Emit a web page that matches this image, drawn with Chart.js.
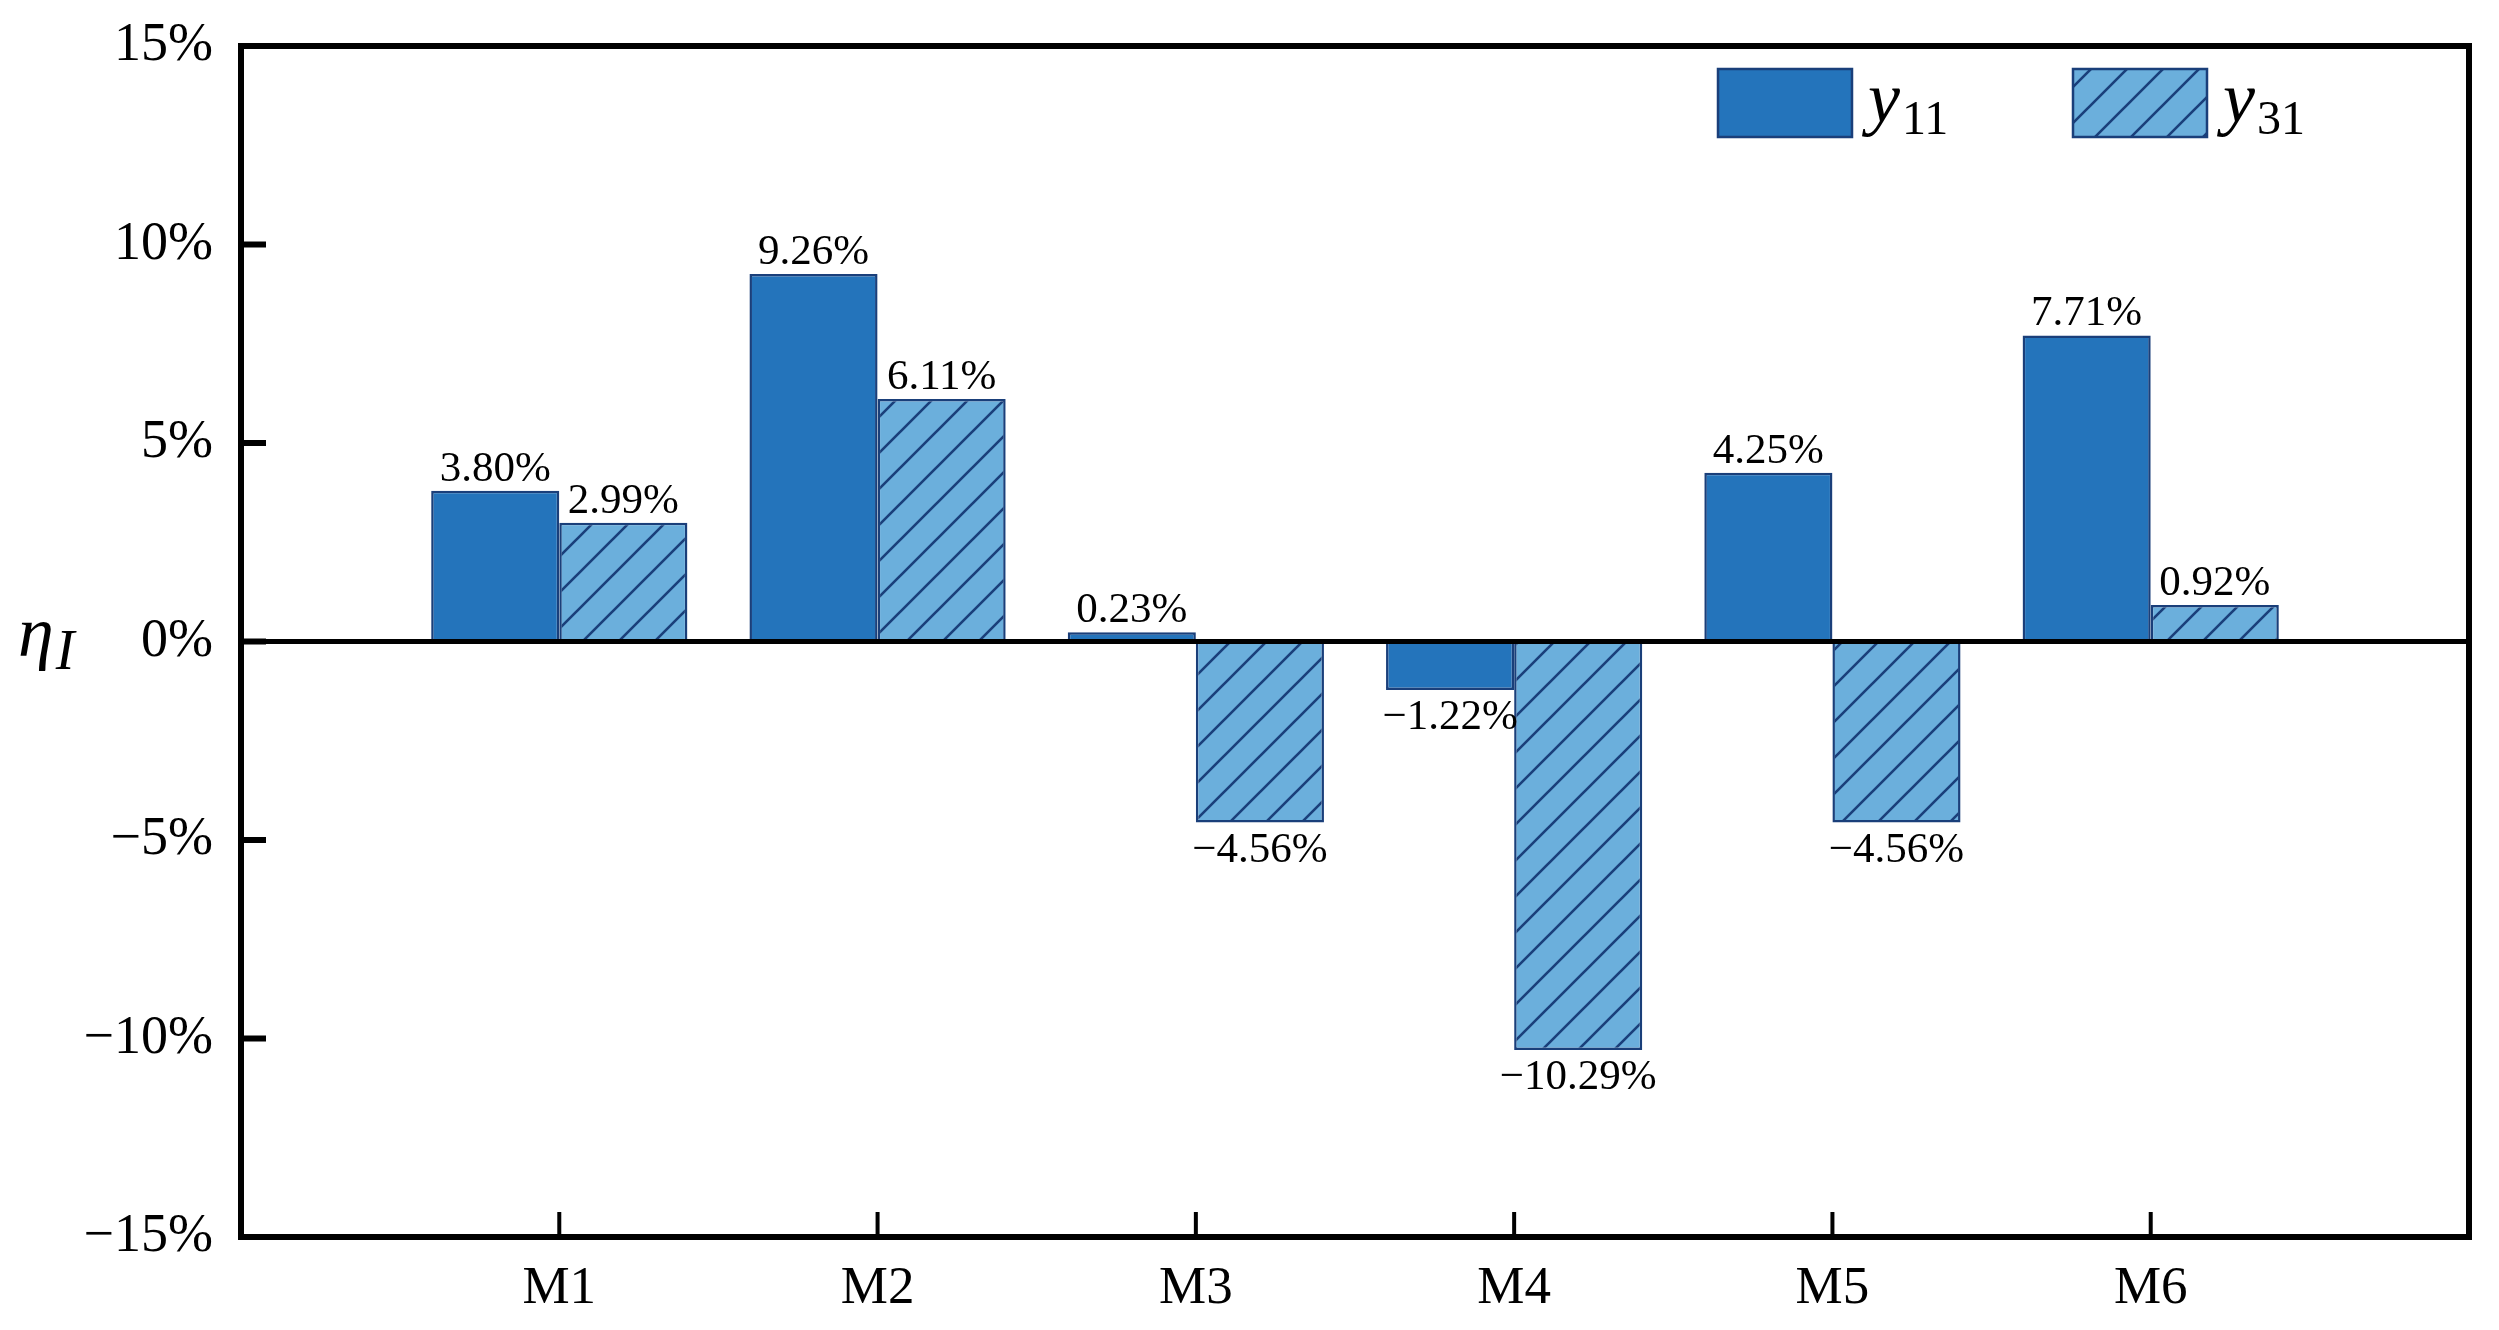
<!DOCTYPE html>
<html><head><meta charset="utf-8">
<script src="https://cdn.jsdelivr.net/npm/chart.js@4"></script>
<style>html,body{margin:0;padding:0;background:#fff;overflow:hidden}</style>
</head><body>
<canvas id="c" width="2499" height="1330"></canvas>
<script>
const categories = ['M1','M2','M3','M4','M5','M6'];
const y11Values = [3.80, 9.26, 0.23, -1.22, 4.25, 7.71];
const y31Values = [2.99, 6.11, -4.56, -10.29, -4.56, 0.92];
const yTickValues = [-15, -10, -5, 0, 5, 10, 15];
const seriesBase = ['y', 'y'];
const seriesSub = ['11', '31'];
const axisTitleBase = 'η';
const axisTitleSub = 'I';

const FONT = '"Liberation Serif", "Times New Roman", serif';
const DARK = '#2474BB';
const LIGHT = '#6BAFDC';
const EDGE = '#1A3F7A';

function makeHatch() {
  const s = 36;
  const c = document.createElement('canvas');
  c.width = s; c.height = s;
  const g = c.getContext('2d');
  g.fillStyle = LIGHT; g.fillRect(0, 0, s, s);
  g.strokeStyle = EDGE; g.lineWidth = 2.6;
  g.beginPath();
  g.moveTo(-2, s + 2); g.lineTo(s + 2, -2);
  g.moveTo(-2, 2); g.lineTo(2, -2);
  g.moveTo(s - 2, s + 2); g.lineTo(s + 2, s - 2);
  g.stroke();
  return g.createPattern(c, 'repeat');
}
const hatch = makeHatch();

const labels = [' '].concat(categories, ['  ']);
const pad = arr => [null].concat(arr, [null]);
const fmt = v => (v < 0 ? '\u2212' : '') + Math.abs(v).toFixed(2) + '%';
const fmtTick = v => (v < 0 ? '\u2212' : '') + Math.abs(v) + '%';

const overlay = {
  id: 'overlay',
  afterDatasetsDraw(chart) {
    const { ctx, chartArea: a, scales: { x, y } } = chart;
    ctx.save();
    ctx.strokeStyle = '#000';
    // zero line
    const y0 = y.getPixelForValue(0);
    ctx.lineWidth = 5;
    ctx.beginPath(); ctx.moveTo(a.left, y0); ctx.lineTo(a.right, y0); ctx.stroke();
    // frame
    ctx.lineWidth = 6;
    ctx.strokeRect(a.left, a.top, a.right - a.left, a.bottom - a.top);
    // y ticks (inward)
    ctx.lineWidth = 6;
    yTickValues.forEach(v => {
      const py = y.getPixelForValue(v);
      ctx.beginPath(); ctx.moveTo(a.left, py); ctx.lineTo(a.left + 25, py); ctx.stroke();
    });
    // x ticks (inward)
    ctx.lineWidth = 4;
    categories.forEach((c, i) => {
      const px = x.getPixelForValue(i + 1);
      ctx.beginPath(); ctx.moveTo(px, a.bottom); ctx.lineTo(px, a.bottom - 25); ctx.stroke();
    });
    // data labels
    ctx.font = '43px ' + FONT;
    ctx.fillStyle = '#000';
    ctx.textAlign = 'center';
    ctx.textBaseline = 'alphabetic';
    chart.data.datasets.forEach((ds, di) => {
      const meta = chart.getDatasetMeta(di);
      meta.data.forEach((el, i) => {
        const v = ds.data[i];
        if (v == null) return;
        if (v >= 0) ctx.fillText(fmt(v), el.x, el.y - 10);
        else ctx.fillText(fmt(v), el.x, el.y + 39);
      });
    });
    // legend
    const boxes = [{ x: 1718, fill: DARK }, { x: 2073, fill: hatch }];
    boxes.forEach((b, i) => {
      ctx.fillStyle = b.fill;
      ctx.fillRect(b.x, 69, 134, 68);
      ctx.strokeStyle = EDGE; ctx.lineWidth = 2.5;
      ctx.strokeRect(b.x, 69, 134, 68);
      ctx.fillStyle = '#000';
      ctx.textAlign = 'left';
      ctx.font = 'italic 72px ' + FONT;
      ctx.fillText(seriesBase[i], b.x + 150, 122);
      const w = ctx.measureText(seriesBase[i]).width;
      ctx.font = '48px ' + FONT;
      ctx.fillText(seriesSub[i], b.x + 150 + w + 2, 134);
    });
    // y axis title
    ctx.font = 'italic 72px ' + FONT;
    ctx.fillText(axisTitleBase, 18, 656);
    const we = ctx.measureText(axisTitleBase).width;
    ctx.font = 'italic 56px ' + FONT;
    ctx.fillText(axisTitleSub, 18 + we + 2, 669);
    ctx.restore();
  }
};

new Chart(document.getElementById('c'), {
  type: 'bar',
  data: {
    labels: labels,
    datasets: [
      { label: 'y11', data: pad(y11Values), backgroundColor: DARK, borderColor: EDGE, borderWidth: 2.5,
        categoryPercentage: 0.805, barPercentage: 1.0 },
      { label: 'y31', data: pad(y31Values), backgroundColor: hatch, borderColor: EDGE, borderWidth: 2.5,
        categoryPercentage: 0.805, barPercentage: 1.0 }
    ]
  },
  options: {
    responsive: false,
    devicePixelRatio: 1,
    animation: false,
    layout: { padding: { left: 0, top: 46, right: 30, bottom: 0 } },
    plugins: { legend: { display: false }, tooltip: { enabled: false } },
    scales: {
      x: {
        type: 'category',
        offset: false,
        grid: { display: false, drawTicks: false },
        border: { display: false },
        ticks: { color: '#000', font: { family: FONT, size: 53 }, padding: 20, autoSkip: false, maxRotation: 0 },
        afterFit(s) { s.height = 93; s.paddingLeft = 0; s.paddingRight = 0; }
      },
      y: {
        min: -15, max: 15,
        afterBuildTicks(s) { s.ticks = yTickValues.map(v => ({ value: v })); },
        grid: { display: false, drawTicks: false },
        border: { display: false },
        ticks: { color: '#000', font: { family: FONT, size: 54 }, padding: 28, callback: v => fmtTick(v) },
        afterFit(s) { s.width = 241; s.paddingTop = 0; s.paddingBottom = 0; }
      }
    }
  },
  plugins: [overlay]
});
</script>
</body></html>
